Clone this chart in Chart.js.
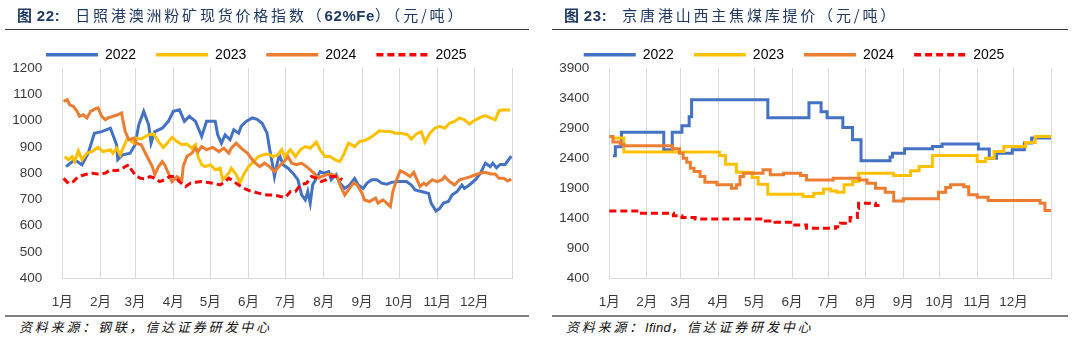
<!DOCTYPE html>
<html><head><meta charset="utf-8">
<script src="https://cdn.jsdelivr.net/npm/chart.js@4.4.1/dist/chart.umd.min.js"></script>
<style>
html,body{margin:0;padding:0;background:#fff;width:1074px;height:340px;overflow:hidden;position:relative;}
.title{position:absolute;top:5px;font-size:15px;line-height:20px;color:#1F3864;white-space:nowrap;font-family:"Noto Sans CJK SC",sans-serif;z-index:2;}
.cj{letter-spacing:2.8px;font-family:"Noto Sans CJK SC",sans-serif;}
.as{letter-spacing:0.6px;font-family:"Liberation Sans",sans-serif;}
.b{font-weight:700;}
.rule{position:absolute;height:1px;background:#3a3a3a;top:29px;}
.brule{position:absolute;height:2px;background:#808080;top:315px;}
.foot{position:absolute;top:318px;font-size:13px;line-height:18px;font-style:italic;color:#111;white-space:nowrap;letter-spacing:2.8px;font-family:"Noto Sans CJK SC",sans-serif;}
.foot .en{font-family:"Liberation Sans",sans-serif;letter-spacing:0.3px;}
canvas{position:absolute;top:24px;}
</style></head>
<body>
<div class="title" style="left:17px"><span class="cj b">图</span><span class="as b" style="margin-left:2px">22:</span><span class="cj" style="margin-left:15px">日照港澳洲粉矿现货价格指数（</span><span class="as b">62%Fe</span><span class="cj">）（元/吨）</span></div>
<div class="title" style="left:564px"><span class="cj b">图</span><span class="as b" style="margin-left:2px">23:</span><span class="cj" style="margin-left:15px">京唐港山西主焦煤库提价（元/吨）</span></div>
<div class="rule" style="left:5px;width:524px"></div>
<div class="rule" style="left:552px;width:516px"></div>
<div class="brule" style="left:5px;width:524px"></div>
<div class="brule" style="left:552px;width:516px"></div>
<div class="foot" style="left:19px">资料来源：钢联，信达证券研发中心</div>
<div class="foot" style="left:566px">资料来源：<span class="en">Ifind</span>，信达证券研发中心</div>
<canvas id="c1" width="537" height="291" style="left:0px"></canvas>
<canvas id="c2" width="537" height="291" style="left:537px"></canvas>
<script>
// ---------- shared ----------
const seriesNames = ['2022', '2023', '2024', '2025'];
const monthDays = [0, 31, 59, 90, 120, 151, 181, 212, 243, 273, 304, 334, 365];
const monthLabels = ['1月','2月','3月','4月','5月','6月','7月','8月','9月','10月','11月','12月'];

// ---------- chart 1: 日照港澳洲粉矿现货价格指数 (day of year, value) ----------
const oreDays2022 = [3,10,16,21,26,32,39,41,44,45,49,55,59,62,66,70,72,75,81,86,90,95,99,103,108,113,117,124,126,129,132,136,139,143,145,149,154,158,162,166,168,170,172,174,176,179,183,187,191,194,197,199,201,203,206,209,212,216,218,222,225,229,233,237,240,244,247,251,255,259,263,267,272,279,283,286,291,297,299,303,306,309,313,316,320,324,326,330,335,339,343,347,349,352,355,359,364];
const ore2022 = [825,851,832,876,952,958,971,946,908,851,870,876,908,984,1035,984,914,958,971,997,1035,1041,997,1016,997,940,997,997,946,914,946,927,965,952,978,997,1010,1005,990,952,895,844,787,832,870,832,819,800,775,717,698,730,686,756,781,806,800,806,775,794,762,742,755,780,755,742,762,775,775,762,758,765,768,768,755,736,730,723,686,656,666,686,692,717,730,755,742,755,775,800,838,825,838,820,833,833,865];

const oreDays2023 = [2,5,8,10,13,16,20,24,29,33,39,41,44,47,51,53,58,60,64,70,74,78,82,85,89,93,97,101,105,108,110,113,116,120,124,128,130,135,137,141,144,147,151,155,159,163,167,171,175,178,180,185,189,193,197,201,206,209,213,217,221,225,228,232,237,241,245,249,253,257,262,266,270,275,280,283,287,291,294,298,302,306,310,314,318,322,326,330,335,339,343,347,351,354,357,363];
const ore2023 = [863,851,863,844,885,851,876,882,898,882,889,876,895,870,914,933,914,933,930,946,949,920,898,914,936,920,908,911,895,908,863,832,825,832,813,819,775,800,819,794,762,794,825,844,863,870,873,863,870,889,863,889,863,889,901,895,918,889,863,863,851,844,870,914,901,920,924,933,946,961,958,958,952,952,946,930,949,958,918,952,971,978,971,990,997,1010,1003,987,1003,1012,1019,1010,1003,1037,1041,1040];

const oreDays2024 = [1,4,6,9,12,14,17,20,23,27,29,32,35,37,41,45,48,51,54,58,60,64,68,73,75,78,81,83,86,89,93,97,98,101,105,108,110,113,117,122,127,131,135,137,141,145,150,154,158,160,164,168,172,177,181,183,186,190,194,198,204,208,210,214,218,223,225,229,233,236,239,243,245,249,254,256,260,263,266,268,271,274,278,282,285,287,290,293,295,300,304,308,310,314,318,322,327,331,335,339,343,347,351,354,358,361,364];
const ore2024 = [1073,1079,1060,1054,1035,1016,1022,1010,1035,1045,1048,1016,1003,1010,1016,1022,1029,958,927,933,914,908,870,825,794,825,844,832,800,768,787,775,825,863,876,895,882,901,889,898,882,895,876,895,914,895,876,851,832,825,838,825,806,832,851,863,838,832,838,825,800,781,787,794,797,787,756,717,743,762,755,724,698,692,705,686,698,686,673,730,775,809,800,787,803,781,749,762,755,775,768,775,787,768,755,775,781,787,794,800,803,797,797,781,781,770,777];

const oreDays2025 = [1,5,9,13,18,24,29,35,39,43,47,51,54,56,59,63,67,71,75,79,83,87,91,95,100,104,108,113,117,122,128,132,135,139,143,147,152,159,166,171,177,181,185,189,193,198,202,206,210,214,218,223,227];
const ore2025 = [780,761,768,787,794,800,797,800,813,809,813,825,832,813,794,781,778,787,781,768,775,787,787,768,749,762,765,768,765,762,755,768,781,768,755,743,733,724,717,717,711,708,730,730,755,762,787,781,768,775,787,787,775];

const oreTicks = {min: 400, max: 1200, step: 100};

// ---------- chart 2: 京唐港山西主焦煤库提价 (stepped, day of change, new price) ----------
const cokeDays2022 = [3,5,10,45,52,60,66,68,131,165,175,180,193,201,208,232,234,244,267,275,305,314,320,333,343,349,365];
const coke2022 = [2440,2590,2830,2540,2830,2940,3090,3370,3070,3320,3170,3070,2910,2705,2355,2420,2483,2555,2593,2635,2550,2400,2483,2538,2650,2735,2735];

const cokeDays2023 = [2,12,91,96,105,118,123,131,160,169,177,183,188,194,201,206,235,249,256,267,304,311,318,326,344,352,365];
const coke2023 = [2735,2500,2445,2300,2167,2077,1967,1800,1760,1817,1888,1855,1833,1955,2010,2150,2110,2188,2260,2443,2343,2400,2510,2593,2660,2760,2760];

const cokeDays2024 = [0,3,9,12,52,58,61,64,67,70,75,79,89,101,105,108,111,127,133,144,158,163,185,207,213,220,228,235,243,272,278,282,293,297,304,313,356,360,365];
const coke2024 = [2760,2667,2633,2605,2555,2483,2400,2333,2233,2177,2093,2000,1955,1900,1955,2093,2150,2205,2122,2150,2110,2038,2067,2038,1983,1900,1833,1688,1722,1833,1910,1955,1925,1790,1750,1693,1650,1527,1527];

const cokeDays2025 = [0,24,53,60,71,129,137,151,163,187,191,199,205,206,220,226];
const coke2025 = [1522,1483,1443,1410,1388,1355,1333,1288,1233,1260,1317,1410,1560,1650,1610,1610];

const cokeTicks = {min: 400, max: 3900, step: 500};

// ---------- styling ----------
const colors = ['#4472C4', '#FFC000', '#ED7D31', '#FF0000'];
Chart.defaults.font.family = "'Liberation Sans', 'Noto Sans CJK SC', sans-serif";
Chart.defaults.color = '#3a3a3a';

function pts(days, vals) { return days.map((d, i) => ({x: d, y: vals[i]})); }

function makeDatasets(dayArrs, valArrs, stepped) {
  return seriesNames.map((name, i) => ({
    label: name,
    data: pts(dayArrs[i], valArrs[i]),
    borderColor: colors[i],
    backgroundColor: colors[i],
    borderWidth: 3,
    borderDash: i === 3 ? [7, 4] : [],
    pointRadius: 0,
    tension: 0,
    stepped: stepped,
    order: 4 - i,
    clip: false
  }));
}

const legendShift = {
  id: 'legendShift',
  afterLayout(chart) {
    const l = chart.legend;
    if (l) { l.top += 3.7; l.bottom += 3.7; }
  }
};

function makeChart(id, datasets, ticks, yWidth, padRight) {
  return new Chart(document.getElementById(id), {
    type: 'line',
    data: {datasets},
    options: {
      responsive: false,
      animation: false,
      devicePixelRatio: 1,
      layout: {padding: {left: 0, right: padRight, top: 0, bottom: 0}},
      plugins: {
        tooltip: {enabled: false},
        legend: {
          position: 'top',
          labels: {
            usePointStyle: true,
            pointStyle: 'line',
            pointStyleWidth: 52,
            padding: 20,
            color: '#333',
            font: {size: 14},
            generateLabels(chart) {
              return chart.data.datasets.map((ds, i) => ({
                text: ds.label,
                strokeStyle: ds.borderColor,
                fillStyle: ds.borderColor,
                lineWidth: 3.5,
                lineDash: ds.borderDash,
                pointStyle: 'line',
                datasetIndex: i,
                hidden: false
              }));
            }
          }
        }
      },
      scales: {
        x: {
          type: 'linear',
          min: monthDays[0],
          max: monthDays[monthDays.length - 1],
          afterBuildTicks(s) { s.ticks = monthDays.map(v => ({value: v})); },
          afterFit(s) { s.height = 36.7; },
          grid: {color: '#d9d9d9', lineWidth: 1, drawTicks: false},
          border: {color: '#d9d9d9'},
          ticks: {
            autoSkip: false, maxRotation: 0, padding: 15.5,
            font: {size: 13.5}, color: '#3a3a3a',
            callback(v) { const i = monthDays.indexOf(v); return (i >= 0 && i < 12) ? monthLabels[i] : ''; }
          }
        },
        y: {
          min: ticks.min, max: ticks.max,
          afterFit(s) { s.width = yWidth; },
          grid: {display: false},
          border: {display: false},
          ticks: {stepSize: ticks.step, padding: 12, font: {size: 13.5}, color: '#3a3a3a',
                  callback(v) { return String(v); }}
        }
      }
    },
    plugins: [legendShift]
  });
}

makeChart('c1', makeDatasets([oreDays2022, oreDays2023, oreDays2024, oreDays2025], [ore2022, ore2023, ore2024, ore2025], false), oreTicks, 62.3, 24.5);
makeChart('c2', makeDatasets([cokeDays2022, cokeDays2023, cokeDays2024, cokeDays2025], [coke2022, coke2023, coke2024, coke2025], true), cokeTicks, 72.3, 23);
</script>
</body></html>
